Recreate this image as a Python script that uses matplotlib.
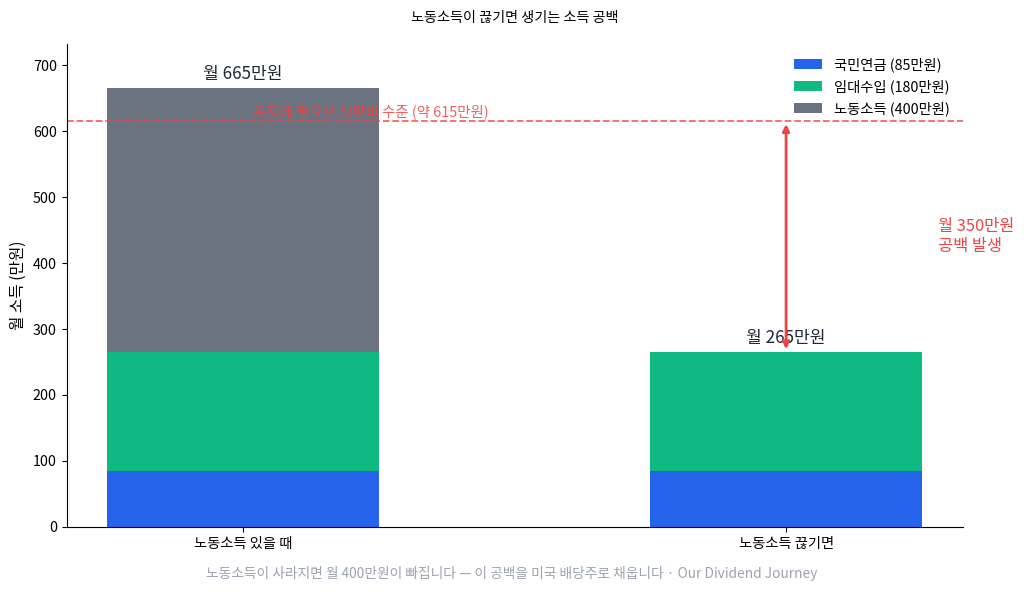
import matplotlib
matplotlib.use("Agg")
import matplotlib.pyplot as plt
import numpy as np

plt.rcParams['font.family'] = ['Noto Sans CJK KR', 'DejaVu Sans']

# --- data ---
scenarios = ["노동소득 있을 때", "노동소득 끊기면"]
pension = [85, 85]
rent = [180, 180]
labor = [400, 0]
series_labels = ["국민연금 (85만원)", "임대수입 (180만원)", "노동소득 (400만원)"]
totals = [665, 265]
need_level = 615
gap = 350

BLUE = "#2563EB"
GREEN = "#10B981"
GRAY = "#6B7280"
RED = "#EF4444"

fig, ax = plt.subplots(figsize=(10.24, 5.92), dpi=100)
x = np.arange(len(scenarios))
w = 0.5

ax.bar(x, pension, w, color=BLUE, label=series_labels[0])
ax.bar(x, rent, w, bottom=pension, color=GREEN, label=series_labels[1])
bottom2 = np.array(pension) + np.array(rent)
ax.bar(x[:1], labor[:1], w, bottom=bottom2[:1], color=GRAY, label=series_labels[2])

for xi, t in zip(x, totals):
    ax.text(xi, t + 8, f"월 {t}만원", ha="center", va="bottom", fontsize=12.3, color="#1F2937")

ax.axhline(need_level, color=RED, ls="--", lw=1.3, alpha=0.8)
ax.text(0.235, need_level + 3, f"유지에 필요한 생활비 수준 (약 {need_level}만원)",
        ha="center", va="bottom", fontsize=10.4, color=RED, alpha=0.85)

ax.annotate("", xy=(1, need_level), xytext=(1, totals[1]),
            arrowprops=dict(arrowstyle="<|-|>", color=RED, lw=2, mutation_scale=10))
ax.text(1.28, (need_level + totals[1]) / 2, f"월 {gap}만원\n공백 발생",
        ha="left", va="center", fontsize=11.8, color=RED)

ax.set_ylim(0, max(totals) * 1.1)
ax.set_xticks(x)
ax.set_xticklabels(scenarios, fontsize=10.3)
ax.tick_params(axis="y", labelsize=10.3)
ax.set_ylabel("월 소득 (만원)", fontsize=11.3)
ax.spines["top"].set_visible(False)
ax.spines["right"].set_visible(False)
ax.legend(loc="upper right", frameon=False, fontsize=10.3)
ax.set_title("노동소득이 끊기면 생기는 소득 공백", fontsize=10.2, pad=16)

fig.text(0.5, 0.024, "노동소득이 사라지면 월 400만원이 빠집니다 — 이 공백을 미국 배당주로 채웁니다 · Our Dividend Journey",
         ha="center", fontsize=9.9, color="#9CA3AF")

fig.subplots_adjust(left=0.065, right=0.94, top=0.925, bottom=0.11)
fig.savefig("out.png", dpi=100)
